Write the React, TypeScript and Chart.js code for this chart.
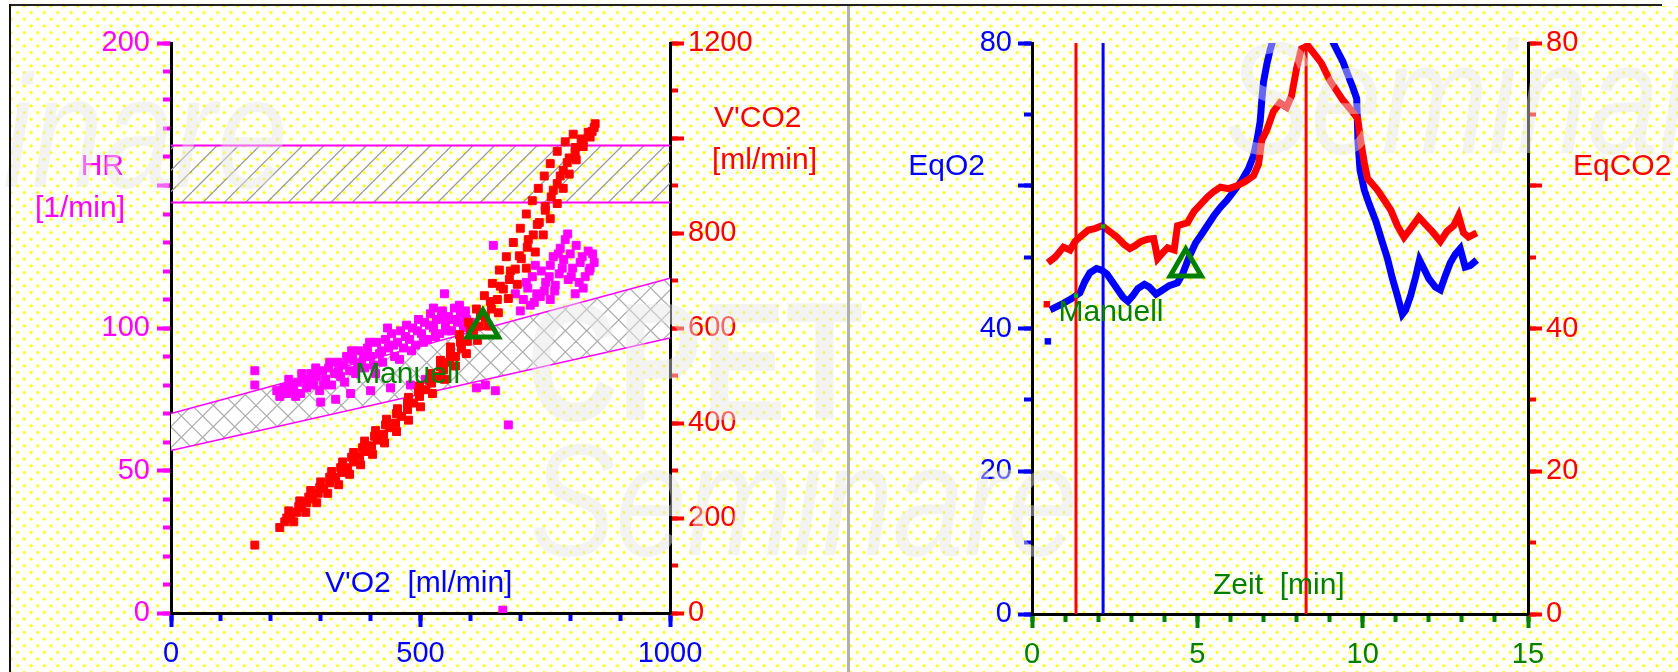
import React, { useEffect, useRef } from 'react';
import { Chart, registerables } from 'chart.js';

Chart.register(...registerables);

const FONT = "'Liberation Sans', Arial, Helvetica, sans-serif";
const MAGENTA = '#ff00ff';
const RED = '#ff0000';
const BLUE = '#0000ff';
const GREEN = '#008000';

// ---------------- Left panel: HR and V'CO2 against V'O2 ----------------
const vo2TickLabels = [0, 500, 1000];
const hrTickLabels = [0, 50, 100, 200];
const vco2TickLabels = [0, 200, 400, 600, 800, 1200];

const bandVO2 = [0, 1000];
const hrTargetTop = [164, 164];
const hrTargetBottom = [144, 144];
const hrPredTop = [70, 117.5];
const hrPredBottom = [57, 96.5];

const vco2Points: number[][] = [
  [168, 143],
  [218, 180], [228, 192], [240, 200], [252, 212], [262, 222], [272, 232], [284, 240], [295, 252], [306, 262],
  [318, 274], [330, 286], [342, 296], [354, 306], [366, 318], [378, 330], [390, 340], [402, 352], [414, 364],
  [426, 376], [438, 390], [450, 400], [462, 414], [474, 428], [486, 442], [498, 456], [510, 470], [522, 484],
  [534, 498], [546, 512], [558, 528], [570, 540], [582, 556], [594, 572], [606, 588], [618, 604], [630, 622],
  [642, 640], [654, 660], [666, 682], [678, 702], [690, 724], [702, 746], [714, 770], [726, 796], [738, 822],
  [750, 848], [762, 876], [774, 904], [786, 932], [798, 958], [810, 980], [822, 998], [836, 1012], [848, 1022],
  [236, 215], [258, 236], [280, 258], [300, 276], [322, 298], [344, 318], [366, 338], [388, 362], [410, 384],
  [432, 408], [454, 430], [476, 454], [498, 478], [520, 504], [540, 532], [560, 560], [578, 586], [596, 612],
  [612, 640], [628, 668], [644, 694], [658, 722], [672, 750], [686, 780], [700, 810], [712, 840], [724, 868],
  [736, 894], [748, 920], [760, 946], [774, 972], [790, 992], [806, 1008],
  [246, 192], [270, 212], [292, 232], [314, 252], [336, 270], [358, 292], [380, 312], [404, 334], [428, 358],
  [452, 382], [476, 406], [500, 434], [524, 462], [548, 492], [570, 520], [592, 546], [614, 574], [636, 604],
  [656, 632], [676, 662], [694, 692], [712, 726], [730, 760], [746, 796], [760, 830], [774, 862], [786, 894],
  [798, 924], [812, 954], [826, 982], [840, 1002],
  [232, 200], [256, 224], [276, 244], [298, 264], [318, 286], [340, 306], [362, 328], [384, 348], [408, 372],
  [430, 396], [452, 420], [474, 442], [496, 466], [518, 490], [540, 518], [560, 544], [580, 570], [600, 598],
  [620, 626], [640, 656], [660, 688], [680, 720], [698, 752], [716, 786], [734, 818], [750, 856], [766, 890],
  [780, 920], [794, 948], [810, 970], [826, 992], [844, 1014], [850, 1030],
];

const hrPoints: number[][] = [
  [168, 85], [168, 80],
  [212, 78], [218, 76], [226, 79], [232, 77], [240, 80], [246, 78], [254, 81], [260, 77], [266, 82], [272, 79],
  [280, 84], [286, 80], [292, 83], [298, 78], [304, 85], [310, 82], [316, 86], [322, 80], [328, 84], [334, 88],
  [340, 83], [346, 87], [352, 90], [358, 85], [364, 89], [370, 84], [376, 92], [382, 88], [388, 86], [394, 93],
  [400, 90], [406, 87], [412, 95], [418, 91], [424, 88], [430, 96], [436, 93], [442, 98], [448, 90], [454, 95],
  [460, 99], [466, 93], [472, 101], [478, 96], [484, 100], [490, 94], [496, 103], [502, 98], [508, 102],
  [514, 96], [520, 105], [526, 100], [526, 107], [532, 103], [538, 98], [544, 106], [550, 101], [556, 104],
  [562, 99], [568, 107], [574, 102], [580, 105], [586, 100], [592, 103], [548, 112],
  [300, 74], [330, 75], [360, 77], [400, 78], [440, 79], [480, 80], [510, 82],
  [236, 82], [250, 76], [262, 84], [276, 81], [290, 86], [306, 80], [318, 88], [336, 85], [348, 81], [362, 92],
  [374, 86], [386, 90], [398, 95], [410, 84], [422, 92], [434, 100], [446, 94], [458, 89], [470, 97], [482, 92],
  [494, 99], [506, 95], [518, 101], [530, 97], [542, 104], [554, 99], [566, 103], [578, 108], [590, 106],
  [600, 102],
  [612, 79], [630, 80], [650, 78], [676, 66], [646, 129],
  [706, 110], [715, 114], [724, 118], [733, 112], [742, 120], [751, 116], [760, 122], [769, 113], [778, 119],
  [787, 124], [796, 117], [805, 121], [780, 128], [790, 131], [800, 126], [812, 129], [824, 125], [836, 127],
  [848, 123], [818, 116], [830, 118], [840, 121], [760, 110], [770, 115], [720, 108], [700, 106], [690, 112],
  [712, 116], [730, 122], [748, 113], [766, 125], [784, 121], [802, 118], [820, 123], [838, 120], [845, 126],
  [795, 133], [776, 126], [758, 118], [740, 111], [728, 109], [810, 112], [826, 114],
  [665, 1],
];

const leftMarkerVO2 = [625];
const leftMarkerHR = [100];
const leftMarkerLabelAt = [369, 83.5];

// ---------------- Right panel: EqO2 and EqCO2 against time ----------------
const timeTickLabels = [0, 5, 10, 15];
const eqTickLabels = [0, 20, 40, 80];

const eqO2Points: number[][] = [
  [0.55, 42.6], [0.9, 43.4], [1.2, 44.2], [1.45, 45.0], [1.6, 46.6], [1.75, 47.8], [1.95, 48.4], [2.1, 48.2],
  [2.27, 47.6], [2.45, 46.4], [2.6, 45.4], [2.75, 44.4], [2.9, 43.8], [3.05, 44.6], [3.2, 45.6], [3.4, 46.2],
  [3.55, 45.8], [3.75, 44.8], [3.95, 45.4], [4.15, 46.0], [4.4, 46.4], [4.55, 47.6], [4.75, 50.0], [4.95, 52.0],
  [5.1, 53.0], [5.3, 54.4], [5.5, 55.8], [5.7, 57.0], [5.9, 58.0], [6.1, 59.2], [6.35, 60.8], [6.55, 62.4],
  [6.7, 64.2], [6.82, 66.8], [6.9, 69.0], [6.95, 72.0], [7.0, 74.5], [7.1, 77.0], [7.2, 79.0], [7.3, 80.6],
  [7.5, 84.0], [8.0, 88.0], [8.5, 88.0], [8.9, 84.0], [9.05, 80.6], [9.2, 79.2], [9.4, 77.4], [9.55, 75.6],
  [9.7, 73.8], [9.82, 72.2], [9.86, 66.0], [9.92, 62.2], [10.05, 59.4], [10.2, 57.4], [10.4, 55.0], [10.6, 52.0],
  [10.75, 49.8], [10.9, 47.0], [11.05, 44.6], [11.2, 42.0], [11.3, 42.6], [11.45, 44.6], [11.6, 47.2],
  [11.72, 49.6], [11.85, 48.4], [12.0, 47.0], [12.2, 45.8], [12.35, 45.4], [12.5, 47.4], [12.65, 49.2],
  [12.8, 50.4], [12.95, 51.2], [13.1, 48.6], [13.25, 48.8], [13.45, 49.6],
];
const eqO2Isolated: number[][] = [[0.48, 38.2]];

const eqCO2Points: number[][] = [
  [0.48, 49.2], [0.7, 50.0], [0.95, 51.4], [1.15, 51.0], [1.3, 52.2], [1.5, 53.0], [1.7, 53.8], [1.9, 54.0],
  [2.12, 54.4], [2.35, 53.6], [2.57, 52.8], [2.78, 51.8], [2.96, 51.2], [3.12, 51.6], [3.3, 52.2], [3.5, 52.5],
  [3.68, 52.6], [3.8, 49.8], [3.95, 50.6], [4.1, 51.3], [4.3, 51.0], [4.4, 54.4], [4.7, 54.8], [4.9, 56.4],
  [5.1, 57.4], [5.3, 58.4], [5.5, 59.2], [5.7, 59.8], [5.95, 59.6], [6.2, 60.0], [6.45, 60.6], [6.7, 61.4],
  [6.85, 63.0], [6.95, 66.4], [7.1, 67.8], [7.3, 70.4], [7.5, 71.6], [7.7, 71.0], [7.85, 72.6], [8.0, 76.4],
  [8.15, 79.2], [8.35, 79.6], [8.55, 78.4], [8.75, 77.2], [9.0, 74.8], [9.2, 73.4], [9.4, 72.0], [9.65, 70.6],
  [9.85, 69.4], [9.95, 66.0], [10.05, 63.2], [10.15, 61.0], [10.3, 60.2], [10.45, 59.4], [10.65, 58.0],
  [10.85, 56.6], [11.05, 54.4], [11.25, 52.8], [11.45, 54.0], [11.7, 55.6], [11.9, 54.6], [12.1, 53.6],
  [12.35, 52.2], [12.55, 53.6], [12.75, 54.4], [12.9, 55.8], [13.05, 53.4], [13.2, 52.8], [13.45, 53.4],
];
const eqCO2Isolated: number[][] = [[0.45, 43.4]];

const redMarkerTimes = [1.33, 8.29];
const blueMarkerTimes = [2.15];
const markerSpan = [0, 80];
const crossingPoints: number[][] = [[2.15, 54.3], [1.33, 44.6]];
const rightMarkerTime = [4.65];
const rightMarkerEq = [48.6];
const rightMarkerLabelAt = [0.8, 42.2];

// ---------------- helpers ----------------
const pts = (arr: number[][]) => arr.map(([x, y]) => ({ x, y }));

function makeHatch(cross: boolean, white: boolean, color: string) {
  const size = 64;
  const c = document.createElement('canvas');
  c.width = size;
  c.height = size;
  const g = c.getContext('2d')!;
  if (white) {
    g.fillStyle = '#ffffff';
    g.fillRect(0, 0, size, size);
  }
  g.strokeStyle = color;
  g.lineWidth = 1.3;
  const step = size / 3;
  for (let i = -4; i <= 7; i++) {
    g.beginPath();
    g.moveTo(i * step, size);
    g.lineTo(i * step + size, 0);
    g.stroke();
    if (cross) {
      g.beginPath();
      g.moveTo(i * step, 0);
      g.lineTo(i * step + size, size);
      g.stroke();
    }
  }
  return g.createPattern(c, 'repeat');
}

type AxisSpec = {
  id: string;
  axis: 'x' | 'y';
  position: string;
  min: number;
  max: number;
  minor: number;
  major: number;
  labels: number[];
  color: string;
  size: number;
  padding: number;
};

function axisPair(s: AxisSpec) {
  const horiz = s.axis === 'x';
  return {
    [s.id]: {
      type: 'linear',
      axis: s.axis,
      position: s.position,
      min: s.min,
      max: s.max,
      weight: 1,
      afterFit: (sc: any) => {
        if (horiz) sc.height = s.size;
        else sc.width = s.size;
      },
      grid: { drawOnChartArea: false, drawTicks: true, tickLength: 8, tickWidth: 4, tickColor: s.color },
      border: { display: true, color: '#000000', width: 3 },
      ticks: {
        stepSize: s.minor,
        maxTicksLimit: 1000,
        autoSkip: false,
        maxRotation: 0,
        padding: s.padding,
        color: s.color,
        font: { family: FONT, size: 29 },
        callback: (v: any) => (s.labels.includes(Number(v)) ? String(v) : ''),
      },
    },
    [s.id + 'Major']: {
      type: 'linear',
      axis: s.axis,
      position: s.position,
      min: s.min,
      max: s.max,
      weight: 0,
      afterFit: (sc: any) => {
        if (horiz) sc.height = 0;
        else sc.width = 0;
      },
      grid: { drawOnChartArea: false, drawTicks: true, tickLength: 14, tickWidth: 4, tickColor: s.color },
      border: { display: false },
      ticks: { stepSize: s.major, maxTicksLimit: 1000, autoSkip: false, display: false },
    },
  };
}

function text(ctx: CanvasRenderingContext2D, str: string, x: number, y: number, color: string, align: CanvasTextAlign) {
  ctx.fillStyle = color;
  ctx.textAlign = align;
  ctx.textBaseline = 'middle';
  ctx.fillText(str, x, y);
}

const wmStyle = (left: number, top: number, size: number, bold: boolean, italic: boolean, sx: number): React.CSSProperties => ({
  position: 'absolute',
  left,
  top,
  fontFamily: FONT,
  fontSize: size,
  lineHeight: `${size}px`,
  fontWeight: bold ? 700 : 400,
  fontStyle: italic ? 'italic' : 'normal',
  color: 'rgba(228,228,228,0.45)',
  whiteSpace: 'nowrap',
  transform: `scaleX(${sx})`,
  transformOrigin: '0 0',
  pointerEvents: 'none',
});

export default function App() {
  const leftRef = useRef<HTMLCanvasElement>(null);
  const rightRef = useRef<HTMLCanvasElement>(null);

  useEffect(() => {
    const charts: Chart[] = [];
    const diag = makeHatch(false, false, '#9a9a9a');
    const cross = makeHatch(true, true, '#b0b0b0');

    const leftTitles = {
      id: 'leftTitles',
      afterDatasetsDraw(chart: any) {
        const ctx = chart.ctx as CanvasRenderingContext2D;
        const a = chart.chartArea;
        const xs = chart.scales.x;
        const ys = chart.scales.y;
        ctx.save();
        ctx.font = `30px ${FONT}`;
        text(ctx, 'HR', a.left - 47, 167, MAGENTA, 'right');
        text(ctx, '[1/min]', a.left - 46, 209, MAGENTA, 'right');
        text(ctx, "V'CO2", a.right + 44, 119, RED, 'left');
        text(ctx, '[ml/min]', a.right + 42, 161, RED, 'left');
        text(ctx, "V'O2  [ml/min]", a.left + 154, 584, BLUE, 'left');
        text(ctx, 'Manuell', xs.getPixelForValue(leftMarkerLabelAt[0]), ys.getPixelForValue(leftMarkerLabelAt[1]), GREEN, 'left');
        ctx.restore();
      },
    };

    const rightTitles = {
      id: 'rightTitles',
      afterDatasetsDraw(chart: any) {
        const ctx = chart.ctx as CanvasRenderingContext2D;
        const a = chart.chartArea;
        const xs = chart.scales.x;
        const ys = chart.scales.y;
        ctx.save();
        ctx.font = `30px ${FONT}`;
        text(ctx, 'EqO2', a.left - 47, 167, BLUE, 'right');
        text(ctx, 'EqCO2', a.right + 45, 167, RED, 'left');
        text(ctx, 'Zeit  [min]', a.left + 181, 586, GREEN, 'left');
        text(ctx, 'Manuell', xs.getPixelForValue(rightMarkerLabelAt[0]), ys.getPixelForValue(rightMarkerLabelAt[1]), GREEN, 'left');
        ctx.restore();
      },
    };

    const squareR = 5.6;

    if (leftRef.current) {
      charts.push(
        new Chart(leftRef.current, {
          type: 'scatter',
          data: {
            datasets: [
              {
                label: 'Manuell',
                data: leftMarkerVO2.map((v, i) => ({ x: v, y: leftMarkerHR[i] })),
                xAxisID: 'x',
                yAxisID: 'y',
                pointStyle: 'triangle',
                pointRadius: 18,
                borderWidth: 5,
                borderColor: GREEN,
                backgroundColor: 'rgba(0,0,0,0)',
                order: 0,
              },
              {
                label: "V'CO2",
                data: pts(vco2Points),
                xAxisID: 'x',
                yAxisID: 'yR',
                pointStyle: 'rect',
                pointRadius: squareR,
                borderWidth: 1,
                borderColor: RED,
                backgroundColor: RED,
                order: 1,
              },
              {
                label: 'HR',
                data: pts(hrPoints),
                xAxisID: 'x',
                yAxisID: 'y',
                pointStyle: 'rect',
                pointRadius: squareR,
                borderWidth: 1,
                borderColor: MAGENTA,
                backgroundColor: MAGENTA,
                order: 2,
              },
              {
                type: 'line',
                label: 'HR target top',
                data: bandVO2.map((v, i) => ({ x: v, y: hrTargetTop[i] })),
                xAxisID: 'x',
                yAxisID: 'y',
                borderColor: MAGENTA,
                borderWidth: 2,
                pointRadius: 0,
                fill: false,
                order: 3,
              },
              {
                type: 'line',
                label: 'HR target bottom',
                data: bandVO2.map((v, i) => ({ x: v, y: hrTargetBottom[i] })),
                xAxisID: 'x',
                yAxisID: 'y',
                borderColor: MAGENTA,
                borderWidth: 2,
                pointRadius: 0,
                fill: '-1',
                backgroundColor: diag as any,
                order: 3,
              },
              {
                type: 'line',
                label: 'HR predicted top',
                data: bandVO2.map((v, i) => ({ x: v, y: hrPredTop[i] })),
                xAxisID: 'x',
                yAxisID: 'y',
                borderColor: MAGENTA,
                borderWidth: 1.5,
                pointRadius: 0,
                fill: false,
                order: 4,
              },
              {
                type: 'line',
                label: 'HR predicted bottom',
                data: bandVO2.map((v, i) => ({ x: v, y: hrPredBottom[i] })),
                xAxisID: 'x',
                yAxisID: 'y',
                borderColor: MAGENTA,
                borderWidth: 1.5,
                pointRadius: 0,
                fill: '-1',
                backgroundColor: cross as any,
                order: 4,
              },
            ] as any,
          },
          options: {
            responsive: false,
            maintainAspectRatio: false,
            animation: false,
            devicePixelRatio: 1,
            layout: { padding: { top: 43, left: 0, right: 0, bottom: 0 } },
            plugins: { legend: { display: false }, tooltip: { enabled: false } },
            scales: {
              ...axisPair({ id: 'x', axis: 'x', position: 'bottom', min: 0, max: 1000, minor: 100, major: 500, labels: vo2TickLabels, color: BLUE, size: 59, padding: 16 }),
              ...axisPair({ id: 'y', axis: 'y', position: 'left', min: 0, max: 200, minor: 10, major: 50, labels: hrTickLabels, color: MAGENTA, size: 171, padding: 13 }),
              ...axisPair({ id: 'yR', axis: 'y', position: 'right', min: 0, max: 1200, minor: 100, major: 200, labels: vco2TickLabels, color: RED, size: 178, padding: 10 }),
            } as any,
          },
          plugins: [leftTitles],
        })
      );
    }

    if (rightRef.current) {
      const vline = (t: number, color: string) => ({
        type: 'line',
        label: 'marker',
        data: markerSpan.map((v) => ({ x: t, y: v })),
        xAxisID: 'x',
        yAxisID: 'y',
        borderColor: color,
        borderWidth: 3,
        pointRadius: 0,
        fill: false,
        order: -1,
      });
      charts.push(
        new Chart(rightRef.current, {
          type: 'scatter',
          data: {
            datasets: [
              {
                label: 'Manuell',
                data: rightMarkerTime.map((t, i) => ({ x: t, y: rightMarkerEq[i] })),
                xAxisID: 'x',
                yAxisID: 'y',
                pointStyle: 'triangle',
                pointRadius: 18,
                borderWidth: 5,
                borderColor: GREEN,
                backgroundColor: 'rgba(0,0,0,0)',
                order: -3,
              },
              {
                label: 'crossings',
                data: pts(crossingPoints),
                xAxisID: 'x',
                yAxisID: 'y',
                pointStyle: 'rect',
                pointRadius: 3,
                borderWidth: 0,
                backgroundColor: '#00c000',
                order: -2,
              },
              ...redMarkerTimes.map((t) => vline(t, RED)),
              ...blueMarkerTimes.map((t) => vline(t, BLUE)),
              {
                type: 'line',
                label: 'EqCO2',
                data: pts(eqCO2Points),
                xAxisID: 'x',
                yAxisID: 'y',
                borderColor: RED,
                borderWidth: 7,
                pointRadius: 0,
                tension: 0,
                fill: false,
                order: 1,
              },
              {
                label: 'EqCO2 start',
                data: pts(eqCO2Isolated),
                xAxisID: 'x',
                yAxisID: 'y',
                pointStyle: 'rect',
                pointRadius: 4.6,
                borderWidth: 0,
                backgroundColor: RED,
                order: 1,
              },
              {
                type: 'line',
                label: 'EqO2',
                data: pts(eqO2Points),
                xAxisID: 'x',
                yAxisID: 'y',
                borderColor: BLUE,
                borderWidth: 7,
                pointRadius: 0,
                tension: 0,
                fill: false,
                order: 2,
              },
              {
                label: 'EqO2 start',
                data: pts(eqO2Isolated),
                xAxisID: 'x',
                yAxisID: 'y',
                pointStyle: 'rect',
                pointRadius: 4.6,
                borderWidth: 0,
                backgroundColor: BLUE,
                order: 2,
              },
            ] as any,
          },
          options: {
            responsive: false,
            maintainAspectRatio: false,
            animation: false,
            devicePixelRatio: 1,
            layout: { padding: { top: 43, left: 0, right: 0, bottom: 0 } },
            plugins: { legend: { display: false }, tooltip: { enabled: false } },
            scales: {
              ...axisPair({ id: 'x', axis: 'x', position: 'bottom', min: 0, max: 15, minor: 1, major: 5, labels: timeTickLabels, color: GREEN, size: 58, padding: 16 }),
              ...axisPair({ id: 'y', axis: 'y', position: 'left', min: 0, max: 80, minor: 10, major: 20, labels: eqTickLabels, color: BLUE, size: 184, padding: 12 }),
              ...axisPair({ id: 'yR', axis: 'y', position: 'right', min: 0, max: 80, minor: 10, major: 20, labels: eqTickLabels, color: RED, size: 150, padding: 10 }),
            } as any,
          },
          plugins: [rightTitles],
        })
      );
    }

    return () => charts.forEach((c) => c.destroy());
  }, []);

  const dots =
    'radial-gradient(circle, #ffff00 1.2px, rgba(255,255,0,0) 1.8px), radial-gradient(circle, #ffff00 1.2px, rgba(255,255,0,0) 1.8px)';

  return (
    <div style={{ position: 'fixed', left: 0, top: 0, width: 1678, height: 672, background: '#ffffff', overflow: 'hidden' }}>
      <div
        style={{
          position: 'absolute',
          left: 11,
          top: 6,
          right: 0,
          bottom: 0,
          backgroundColor: '#ffffff',
          backgroundImage: dots,
          backgroundSize: '13.333px 13.333px',
          backgroundPosition: '0px 0px, 6.667px 6.667px',
        }}
      />
      <canvas ref={leftRef} width={848} height={672} style={{ position: 'absolute', left: 0, top: 0, width: 848, height: 672 }} />
      <canvas ref={rightRef} width={830} height={672} style={{ position: 'absolute', left: 848, top: 0, width: 830, height: 672 }} />
      <div style={wmStyle(527, 278, 168, true, false, 0.75)}>CPET</div>
      <div style={wmStyle(530, 420, 160, false, true, 0.8)}>Seminare</div>
      <div style={wmStyle(1225, 18, 160, false, true, 0.8)}>Seminare</div>
      <div style={wmStyle(-260, 52, 160, false, true, 0.8)}>Seminare</div>
      <div style={{ position: 'absolute', left: 9, top: 4, width: 1653, height: 2, background: '#222222' }} />
      <div style={{ position: 'absolute', left: 9, top: 4, width: 2, height: 668, background: '#111111' }} />
      <div style={{ position: 'absolute', left: 847, top: 6, width: 3, height: 666, background: '#b0b0b0' }} />
    </div>
  );
}
